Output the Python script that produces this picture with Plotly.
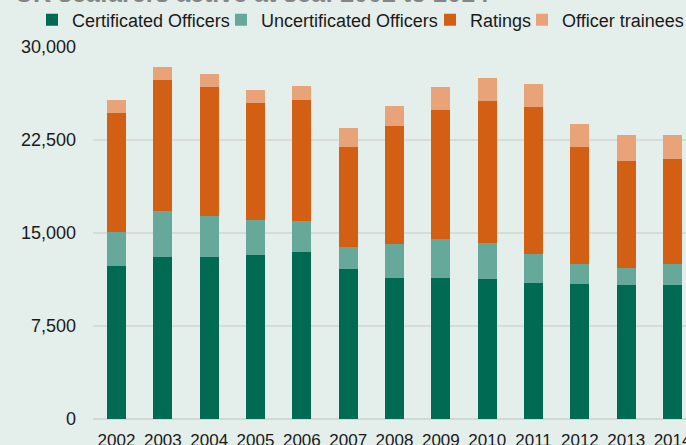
import plotly.graph_objects as go

years = ["2002", "2003", "2004", "2005", "2006", "2007", "2008",
         "2009", "2010", "2011", "2012", "2013", "2014"]
certificated = [12360, 13090, 13090, 13250, 13490, 12120, 11400,
                11400, 11320, 10990, 10910, 10830, 10830]
uncertificated = [2750, 3710, 3310, 2820, 2500, 1750, 2740,
                  3140, 2900, 2340, 1610, 1370, 1690]
ratings = [9590, 10560, 10400, 9440, 9760, 8090, 9510,
           10400, 11450, 11860, 9440, 8630, 8470]
trainees = [1050, 1050, 1050, 1050, 1130, 1530, 1620,
            1860, 1860, 1850, 1860, 2100, 1940]
y_ticks = [0, 7500, 15000, 22500, 30000]

series = [
    ("Certificated Officers", certificated, "#006a52"),
    ("Uncertificated Officers", uncertificated, "#66a89a"),
    ("Ratings", ratings, "#d35f15"),
    ("Officer trainees", trainees, "#e8a478"),
]

W, H = 686, 445
ML, MR, MT, MB = 93, 0, 47, 26
PW = W - ML - MR
PH = H - MT - MB

def px_x(p):
    return (p - ML) / PW

def px_y(p):
    return (H - MB - p) / PH

BG = "#e4eeea"
FONT = "Liberation Sans, Arial, sans-serif"

fig = go.Figure()
legend_names = ["legend", "legend2", "legend3", "legend4"]
for (name, vals, col), lg in zip(series, legend_names):
    fig.add_trace(go.Bar(x=years, y=vals, name=name, marker_color=col,
                         marker_line_width=0, legend=lg, showlegend=True))

legend_left = [32, 221, 430, 522]
legend_cfg = {}
for lg, left in zip(legend_names, legend_left):
    legend_cfg[lg] = dict(
        x=px_x(left), xref="paper", xanchor="left",
        y=px_y(20), yref="paper", yanchor="middle",
        orientation="h", bgcolor="rgba(0,0,0,0)", borderwidth=0,
        font=dict(family=FONT, size=18, color="#1a1a1a"),
    )

fig.update_layout(
    width=W, height=H,
    margin=dict(l=ML, r=MR, t=MT, b=MB, autoexpand=False),
    paper_bgcolor=BG, plot_bgcolor=BG,
    showlegend=True,
    barmode="stack", bargap=0.59,
    font=dict(family=FONT, size=18, color="#1a1a1a"),
    **legend_cfg,
    xaxis=dict(range=[-0.507, 12.29], showgrid=False, showline=False,
               zeroline=False, ticks="", tickfont=dict(size=17, color="#1a1a1a"),
               ticklabelstandoff=9),
    yaxis=dict(range=[0, 30000], tickvals=y_ticks, tickformat=",d",
               showgrid=True, gridcolor="#d7dcda", gridwidth=2,
               zeroline=True, zerolinecolor="#cfd9d5", zerolinewidth=2,
               showline=False, ticks="", ticklabelstandoff=16,
               tickfont=dict(size=18, color="#1a1a1a")),
    annotations=[dict(
        text="<b>UK seafarers active at sea: 2002 to 2014</b>",
        xref="paper", yref="paper", x=px_x(13), y=px_y(9),
        xanchor="left", yanchor="bottom", showarrow=False,
        font=dict(family=FONT, size=25, color="#858585"),
    )],
)

fig.write_html(
    "out.html",
    config={"displayModeBar": False},
    post_script=("document.documentElement.style.margin='0';"
                 "document.body.style.margin='0';"
                 "document.body.style.overflow='hidden';"
                 "document.documentElement.style.overflow='hidden';"),
)
